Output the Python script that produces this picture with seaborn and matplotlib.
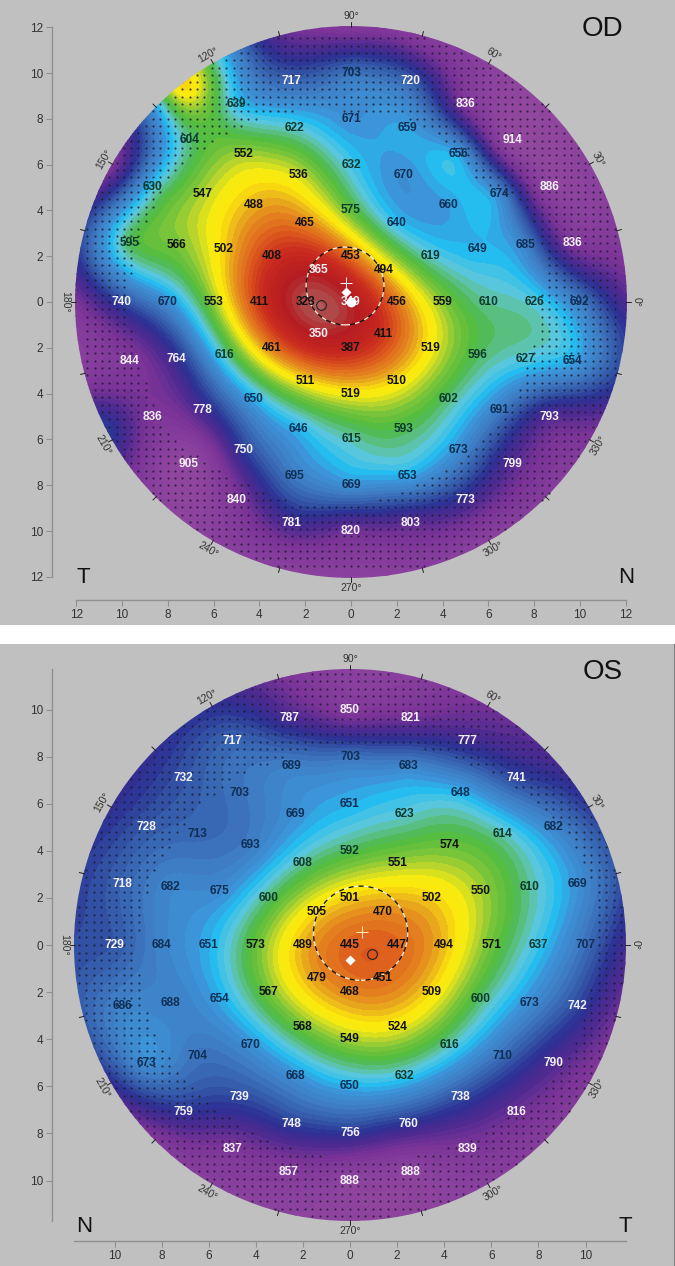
import numpy as np
import matplotlib
matplotlib.use("Agg")
import matplotlib.pyplot as plt
from matplotlib.colors import LinearSegmentedColormap
from matplotlib.patches import Circle
import seaborn as sns

ring_radii = [2, 4, 6, 8, 10]

# values per ring, counter clockwise starting at 0 degrees
od_center = 349
od_r2 = [456, 494, 453, 365, 323, 350, 387, 411]
od_r4 = [559, 619, 640, 575, 465, 408, 411, 461, 511, 519, 510, 519]
od_r6 = [610, 649, 660, 670, 632, 536, 488, 502, 553, 616, 650, 646, 615, 593, 602, 596]
od_r8 = [626, 685, 674, 656, 659, 671, 622, 552, 547, 566, 670, 764, 778, 750, 695, 669, 653, 673, 691, 627]
od_r10 = [692, 836, 886, 914, 836, 720, 703, 717, 639, 604, 630, 595,
          740, 844, 836, 905, 840, 781, 820, 803, 773, 799, 793, 654]

os_center = 445
os_r2 = [447, 470, 501, 505, 489, 479, 468, 451]
os_r4 = [494, 502, 551, 592, 608, 600, 573, 567, 568, 549, 524, 509]
os_r6 = [571, 550, 574, 623, 651, 669, 693, 675, 651, 654, 670, 668, 650, 632, 616, 600]
os_r8 = [637, 610, 614, 648, 683, 703, 689, 703, 713, 682, 684, 688, 704, 739, 748, 756, 760, 738, 710, 673]
os_r10 = [707, 669, 682, 741, 777, 821, 850, 787, 717, 732, 728, 718,
          729, 686, 673, 759, 837, 857, 888, 888, 839, 816, 790, 742]

# rim is not printed in the original, estimated from the colours
od_rim_angle = [0, 15, 30, 45, 60, 75, 90, 105, 120, 128, 135, 150, 165, 180, 195, 207, 225, 240, 255, 270, 285, 300, 315, 330, 345]
od_rim_value = [790, 860, 880, 900, 880, 860, 850, 800, 600, 500, 650, 830, 730, 830, 860, 750, 880, 880, 880, 880, 870, 880, 860, 840, 740]
os_rim_angle = [0, 15, 30, 45, 60, 75, 90, 105, 120, 135, 150, 165, 180, 195, 210, 225, 240, 255, 270, 285, 300, 315, 330, 345]
os_rim_value = [790, 740, 760, 800, 830, 870, 880, 830, 770, 770, 770, 750, 740, 730, 780, 860, 880, 890, 890, 890, 880, 870, 860, 830]

# inner edge of the dotted zone (angle, radius)
od_dot_angle = [0, 15, 30, 45, 60, 75, 90, 111, 130, 146, 161, 180, 199, 215, 229, 244, 270, 285, 303, 321, 338, 360]
od_dot_r = [8.2, 8.7, 8.6, 7.6, 8.2, 8.4, 8.25, 8.8, 9.2, 9.5, 9.6, 9.7, 9.6, 9.7, 9.4, 9.1, 8.9, 8.5, 8.4, 8.3, 8.2, 8.2]
os_dot_angle = [0, 14, 28, 43, 57, 68, 90, 113, 131, 149, 166, 180, 199, 218, 240, 256, 275, 292, 311, 327, 344, 360]
os_dot_r = [10.4, 10.6, 10.3, 9.7, 9.2, 8.9, 8.55, 8.4, 8.6, 8.7, 8.9, 9.0, 9.1, 9.0, 8.9, 8.95, 9.1, 9.5, 9.8, 10.3, 10.4, 10.4]

color_values = [300, 330, 350, 400, 440, 470, 490, 510, 525, 545, 565, 590, 610, 625, 645, 665, 700, 730, 760, 790, 830, 900, 950]
color_list = ["#ac7272", "#b03c3c", "#b51c22", "#c8281e", "#dc5a1e", "#e58a1e", "#eab31c", "#fde70a",
              "#f6ea10", "#b8d42c", "#78c43a", "#4dbb40", "#5cc090", "#5cc8dc", "#22bdf0", "#3d94d8",
              "#3e78c0", "#3358a8", "#2c3094", "#4a2a90", "#7a3398", "#8f459f", "#94489f"]
cmap = LinearSegmentedColormap.from_list(
    "thick", [((v - 300) / 650, c) for v, c in zip(color_values, color_list)], N=256)
levels = np.arange(300, 951, 10)

sns.set_style("white")
plt.rcParams["font.family"] = ["Liberation Sans", "DejaVu Sans"]

W, H = 675, 1266
GREY = "#c0c0c0"
fig = plt.figure(figsize=(W / 100, H / 100), dpi=100, facecolor="white")


def panel(top, bottom, cx, cy, scale):
    ax = fig.add_axes([0, 1 - bottom / H, 1, (bottom - top) / H])
    ax.set_xlim(-cx / scale, (W - cx) / scale)
    ax.set_ylim((cy - bottom) / scale, (cy - top) / scale)
    ax.set_facecolor(GREY)
    return ax


def ring_points(center, rings):
    xs, ys, vals = [0.0], [0.0], [center]
    for r, ring in zip(ring_radii, rings):
        ang = np.radians(np.linspace(0, 360, len(ring), endpoint=False))
        xs.extend(r * np.cos(ang))
        ys.extend(r * np.sin(ang))
        vals.extend(ring)
    return np.array(xs), np.array(ys), np.array(vals, dtype=float)


def tps_surface(px, py, pz, gx, gy, smooth=0.02):
    # thin plate spline through the printed values
    def kernel(d):
        return np.where(d > 0, d ** 2 * np.log(d + 1e-12), 0.0)
    n = len(px)
    d = np.hypot(px[:, None] - px[None, :], py[:, None] - py[None, :])
    P = np.column_stack([np.ones(n), px, py])
    A = np.block([[kernel(d) + smooth * np.eye(n), P], [P.T, np.zeros((3, 3))]])
    sol = np.linalg.solve(A, np.concatenate([pz, np.zeros(3)]))
    d2 = np.hypot(gx[..., None] - px, gy[..., None] - py)
    return kernel(d2) @ sol[:n] + sol[n] + sol[n + 1] * gx + sol[n + 2] * gy


def label_color(v):
    if v > 715 or 340 < v < 370:
        return "#f4f0f6"
    if v >= 640:
        return "#0f2f55"
    if v >= 575:
        return "#0c3a2c"
    return "#111111"


def draw_eye(ax, center, rings, rim_angle, rim_value, dot_angle, dot_r, radius, axis_end, axis_y, ticks,
             spine_x, name, left, right, name_xy, left_x, right_x, letter_y):
    x, y, z = ring_points(center, rings)
    rim = np.radians(rim_angle)
    all_x = np.concatenate([x, 12.0 * np.cos(rim)])
    all_y = np.concatenate([y, 12.0 * np.sin(rim)])
    all_z = np.concatenate([z, rim_value])

    gx, gy = np.meshgrid(np.linspace(-12.6, 12.6, 320), np.linspace(-12.6, 12.6, 320))
    gz = tps_surface(all_x, all_y, all_z, gx, gy)
    disc = Circle((0, 0), radius, transform=ax.transData)
    cs = ax.contourf(gx, gy, gz, levels=levels, cmap=cmap, extend="both")
    cs.set_clip_path(disc)

    # dotted zone
    dx, dy = np.meshgrid(np.arange(-36, 37) * 0.32, np.arange(-36, 37) * 0.32)
    dr = np.hypot(dx, dy)
    da = np.degrees(np.arctan2(dy, dx)) % 360
    keep = (dr > np.interp(da, dot_angle, dot_r)) & (dr < radius - 0.05)
    sns.scatterplot(x=dx[keep], y=dy[keep], s=2.4, color="#1a1a2a", linewidth=0, alpha=0.8,
                    ax=ax, legend=False, zorder=3)

    for xi, yi, v in zip(x, y, z):
        ax.text(xi, yi, str(int(v)), ha="center", va="center", fontsize=8.6, fontweight="bold",
                color=label_color(v), zorder=6)

    # degree ticks and labels
    for deg in range(0, 360, 15):
        a = np.radians(deg)
        ax.plot([(radius - 0.05) * np.cos(a), (radius + 0.18) * np.cos(a)],
                [(radius - 0.05) * np.sin(a), (radius + 0.18) * np.sin(a)],
                color="#222222", lw=0.7, zorder=4)
        if deg % 30 == 0:
            ax.text((radius + 0.42) * np.cos(a), (radius + 0.42) * np.sin(a), f"{deg}°",
                    ha="center", va="center", fontsize=7.5, color="#333333",
                    rotation=deg % 180 - 90, rotation_mode="anchor")

    # axes
    for s in ["top", "right"]:
        ax.spines[s].set_visible(False)
    ax.spines["left"].set_position(("data", spine_x))
    ax.spines["bottom"].set_position(("data", axis_y))
    ax.spines["left"].set_bounds(-axis_end, axis_end)
    ax.spines["bottom"].set_bounds(-axis_end, axis_end)
    for s in ["left", "bottom"]:
        ax.spines[s].set_color("#909090")
        ax.spines[s].set_linewidth(1.0)
        ax.spines[s].set_visible(True)
    ax.set_xticks(ticks)
    ax.set_yticks(ticks)
    ax.set_xticklabels([str(abs(t)) for t in ticks])
    ax.set_yticklabels([str(abs(t)) for t in ticks])
    ax.tick_params(left=True, bottom=True, length=4.5, width=0.8, color="#909090",
                   labelcolor="#333333", labelsize=8.5, pad=2)
    ax.grid(False)

    ax.text(*name_xy, name, fontsize=20, ha="center", va="center", color="#111111")
    ax.text(left_x, letter_y, left, fontsize=16, ha="center", va="center", color="#111111")
    ax.text(right_x, letter_y, right, fontsize=16, ha="center", va="center", color="#111111")


def center_marks(ax, circle_xy, circle_r, cross_xy, cross_color, diamond_xy, open_xy, pupil_dot):
    ax.add_patch(Circle(circle_xy, circle_r, fill=False, ec="#f2f2d8", lw=0.9, ls=(0, (4, 4)), zorder=5))
    ax.add_patch(Circle(circle_xy, circle_r, fill=False, ec="#111111", lw=0.9, ls=(4, (4, 4)), zorder=5))
    ax.plot(*cross_xy, marker="+", ms=8, mew=0.7, color=cross_color, zorder=7)
    ax.plot(*diamond_xy, marker="D", ms=5, color="white", mec="none", zorder=7)
    ax.plot(*open_xy, marker="o", ms=7, mfc="none", mec="#222222", mew=0.8, zorder=7)
    if pupil_dot:
        ax.plot(0, 0, marker="o", ms=7, color="white", mec="none", zorder=7)


ax_od = panel(0, 625, 351, 302, 22.9)
draw_eye(ax_od, od_center, [od_r2, od_r4, od_r6, od_r8, od_r10], od_rim_angle, od_rim_value,
         od_dot_angle, od_dot_r, 12.05, 12, -13.0, list(range(-12, 13, 2)), -13.05,
         "OD", "T", "N", (11.0, 11.9), -11.7, 12.0, -12.05)
center_marks(ax_od, (-0.26, 0.7), 1.7, (-0.2, 0.82), "white", (-0.2, 0.43), (-1.3, -0.13), True)

ax_os = panel(644, 1266, 350, 945, 23.55)
draw_eye(ax_os, os_center, [os_r2, os_r4, os_r6, os_r8, os_r10], os_rim_angle, os_rim_value,
         os_dot_angle, os_dot_r, 11.72, 11.72, -12.55, list(range(-10, 11, 2)), -12.65,
         "OS", "N", "T", (10.75, 11.6), -11.3, 11.7, -11.95)
center_marks(ax_os, (0.45, 0.5), 2.0, (0.5, 0.55), "#fff4c0", (0, -0.65), (0.93, -0.4), False)
ax_os.spines["right"].set_visible(True)
ax_os.spines["right"].set_color("#808080")
ax_os.spines["right"].set_position(("axes", 0.999))

fig.savefig("out.png", dpi=100, facecolor="white")
